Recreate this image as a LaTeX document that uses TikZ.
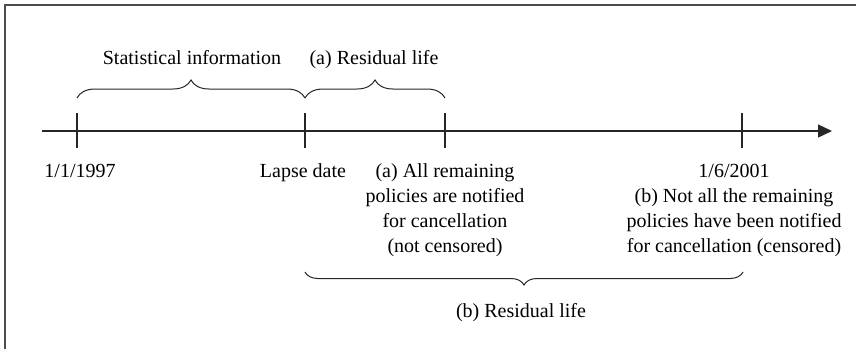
\documentclass[tikz,border=0pt]{standalone}
\usepackage{fontspec}
\setmainfont{Liberation Serif}
\usetikzlibrary{decorations.pathreplacing,arrows.meta}
\begin{document}
\begin{tikzpicture}[x=1pt,y=-1pt,
  lbl/.style={inner sep=0pt,anchor=base,align=center,font=\fontsize{20}{25}\selectfont},
  tick/.style={line width=1.1pt,draw=black!85},
  axis/.style={line width=1.3pt,draw=black!85,-{Triangle[length=14pt,width=13pt]}},
  bracetop/.style={line width=1pt,draw=black!85,decorate,decoration={brace,amplitude=18pt}},
  bracebot/.style={line width=1pt,draw=black!85,decorate,decoration={brace,amplitude=13pt}},
  frame/.style={line width=1.5pt,draw=black!70}]
\useasboundingbox (0,0) rectangle (856,349);
\draw[frame] (5,349) -- (5,5) -- (856,5);
% axis
\coordinate (ax0) at (42,131);
\coordinate (ax1) at (832,131);
\draw[axis] (ax0) -- (ax1);
% ticks
\coordinate (t1a) at (77,113);  \coordinate (t1b) at (77,148);
\coordinate (t2a) at (305,113); \coordinate (t2b) at (305,148);
\coordinate (t3a) at (445,113); \coordinate (t3b) at (445,148);
\coordinate (t4a) at (742,113); \coordinate (t4b) at (742,148);
\draw[tick] (t1a) -- (t1b);
\draw[tick] (t2a) -- (t2b);
\draw[tick] (t3a) -- (t3b);
\draw[tick] (t4a) -- (t4b);
% braces
\coordinate (b1s) at (77,98);  \coordinate (b1e) at (305,98);
\coordinate (b2s) at (305,98); \coordinate (b2e) at (445,98);
\coordinate (b3s) at (743,272); \coordinate (b3e) at (305,272);
\draw[bracetop] (b1s) -- (b1e);
\draw[bracetop] (b2s) -- (b2e);
\draw[bracebot] (b3s) -- (b3e);
% labels (multi-line nodes are placed by the baseline of their last line)
\node[lbl] (stat) at (192,64) {Statistical information};
\node[lbl] (resa) at (374,64) {(a) Residual life};
\node[lbl] (d1) at (80,177) {1/1/1997};
\node[lbl] (lapse) at (303,177) {Lapse date};
\node[lbl] (alla) at (445,252) {(a) All remaining\\policies are notified\\for cancellation\\(not censored)};
\node[lbl] (notb) at (734,252) {1/6/2001\\(b) Not all the remaining\\policies have been notified\\for cancellation (censored)};
\node[lbl] (resb) at (521,317) {(b) Residual life};
\end{tikzpicture}
\end{document}
